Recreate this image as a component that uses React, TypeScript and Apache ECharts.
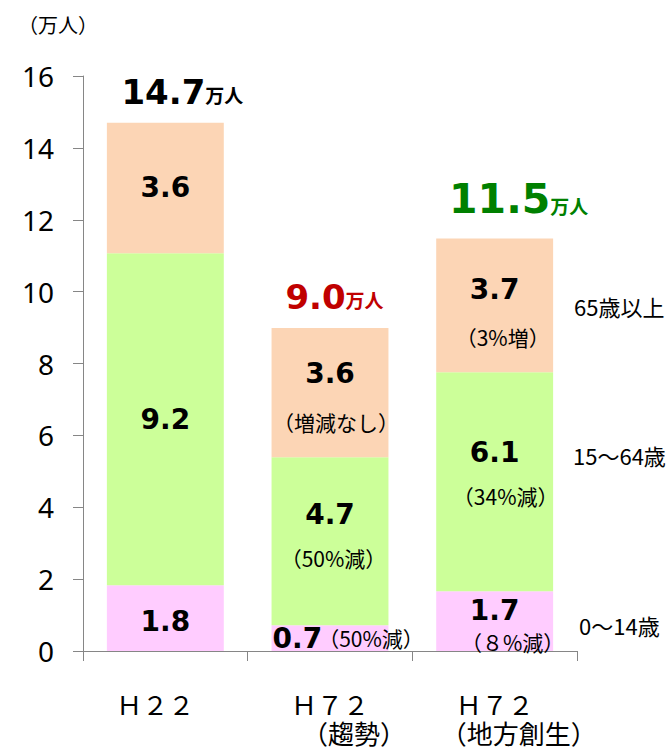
import React, { useEffect, useRef } from 'react';
import * as echarts from 'echarts';

// ---- data ----
const categories = ['Ｈ２２', 'Ｈ７２', 'Ｈ７２'];
const categoryNotes = ['', '（趨勢）', '（地方創生）'];
const ageGroups = ['0～14歳', '15～64歳', '65歳以上'];
const age0to14 = [1.83, 0.72, 1.66];
const age15to64 = [9.24, 4.67, 6.1];
const age65plus = [3.63, 3.6, 3.72];
const change0to14 = ['', '（50%減）', '（８%減）'];
const change15to64 = ['', '（50%減）', '（34%減）'];
const change65plus = ['', '（増減なし）', '（3%増）'];
const yMin = 0;
const yMax = 16;
const yStep = 2;
const unitText = '（万人）';
const totalUnitText = '万人';

// ---- styles / layout ----
const NUM_FONT = "'DejaVu Sans', Verdana, sans-serif";
const JP_FONT = "'Noto Sans CJK JP', sans-serif";
const AXIS_COLOR = '#868686';
const segColors = ['#FFCCFF', '#CCFF99', '#FCD5B5'];
const totalColors = ['#000000', '#C00000', '#008000'];
const segLabelLayout: any[][] = [
  [{ dy: 3 }, { inline: true }, { dy: 5, gap: 32, shift: 18 }],
  [{ dy: 0 }, { dy: -5, gap: 44, shift: 3.5 }, { dy: -7.5, gap: 43, shift: 11 }],
  [{ dy: 0 }, { dy: 5, gap: 49, shift: 6 }, { dy: 7.75, gap: 47.5, shift: 8 }],
];
const totalLabelLayout = [
  { dx: 17, dy: 0, size: 34 },
  { dx: 4.5, dy: 0, size: 34 },
  { dx: 24, dy: -5, size: 41 },
];
const sideLabelPos = [
  { x: 579, y: 625 },
  { x: 573, y: 455 },
  { x: 574, y: 306 },
];

const vStyle = {
  fontSize: 28,
  fontWeight: 'bold' as const,
  fontFamily: NUM_FONT,
  color: '#000',
};
const sStyle = {
  fontSize: 21,
  fontFamily: JP_FONT,
  color: '#000',
};

function segData(values: number[], notes: string[], si: number) {
  return values.map((v, i) => {
    const lay = segLabelLayout[si][i];
    const txt = v.toFixed(1);
    if (lay.inline) {
      return {
        value: v,
        label: {
          show: true,
          position: 'insideLeft',
          distance: 1,
          color: '#000',
          textBorderWidth: 0,
          formatter: `{v|${txt}}{s|${notes[i]}}`,
          rich: {
            v: { ...vStyle, lineHeight: 30, align: 'left' },
            s: { ...sStyle, lineHeight: 30, align: 'left', padding: [0, 0, 0, -4] },
          },
        },
      };
    }
    if (!notes[i]) {
      return {
        value: v,
        label: {
          show: true,
          position: 'inside',
          offset: [0, lay.dy],
          color: '#000',
          textBorderWidth: 0,
          formatter: `{v|${txt}}`,
          rich: { v: { ...vStyle, lineHeight: 34, align: 'center' } },
        },
      };
    }
    return {
      value: v,
      label: {
        show: true,
        position: 'inside',
        offset: [0, lay.dy],
        color: '#000',
        textBorderWidth: 0,
        formatter: `{v|${txt}}\n{s|${notes[i]}}`,
        rich: {
          v: { ...vStyle, lineHeight: lay.gap, align: 'center' },
          s: {
            ...sStyle,
            lineHeight: lay.gap,
            align: 'center',
            padding: [0, 0, 0, lay.shift * 2],
          },
        },
      },
    };
  });
}

export default function App() {
  const ref = useRef<HTMLDivElement>(null);

  useEffect(() => {
    if (!ref.current) return;
    const chart = echarts.init(ref.current, null, { renderer: 'svg' });

    const segValues = [age0to14, age15to64, age65plus];
    const segNotes = [change0to14, change15to64, change65plus];
    const totals = categories.map((_, i) => age0to14[i] + age15to64[i] + age65plus[i]);

    const barSeries = segValues.map((vals, si) => ({
      name: ageGroups[si],
      type: 'bar',
      stack: 'total',
      barWidth: '71%',
      silent: true,
      itemStyle: { color: segColors[si] },
      data: segData(vals, segNotes[si], si),
    }));

    const totalSeries = {
      name: 'total',
      type: 'scatter',
      symbolSize: 1,
      silent: true,
      z: 10,
      itemStyle: { color: 'rgba(0,0,0,0)', opacity: 1 },
      data: totals.map((t, i) => {
        const lay = totalLabelLayout[i];
        return {
          value: t,
          label: {
            show: true,
            opacity: 1,
            position: 'top',
            distance: 13,
            offset: [lay.dx, lay.dy],
            formatter: `{n|${t.toFixed(1)}}{u|${totalUnitText}}`,
            rich: {
              n: {
                fontSize: lay.size,
                fontWeight: 'bold',
                fontFamily: NUM_FONT,
                color: totalColors[i],
                lineHeight: lay.size,
                verticalAlign: 'bottom',
              },
              u: {
                fontSize: 19,
                fontWeight: 'bold',
                fontFamily: JP_FONT,
                color: totalColors[i],
                verticalAlign: 'bottom',
                padding: [0, 0, 5, 0],
              },
            },
          },
        };
      }),
    };

    const option: any = {
      animation: false,
      backgroundColor: '#ffffff',
      grid: { left: 83, right: 94, top: 76, bottom: 100, containLabel: false },
      xAxis: {
        type: 'category',
        data: categories.map((c, i) => c + categoryNotes[i]),
        axisLine: { show: true, lineStyle: { color: AXIS_COLOR, width: 1 } },
        axisTick: { show: true, length: 10, alignWithLabel: false, interval: 0, lineStyle: { color: AXIS_COLOR } },
        axisLabel: {
          interval: 0,
          margin: 38,
          formatter: (_v: string, idx: number) =>
            idx === 0
              ? `{h0|${categories[idx]}}`
              : `{h|${categories[idx]}}\n{p|${categoryNotes[idx]}}`,
          rich: {
            h0: { fontSize: 26, fontFamily: JP_FONT, color: '#000', lineHeight: 29, align: 'center', padding: [0, 20, 0, 0] },
            h: { fontSize: 26, fontFamily: JP_FONT, color: '#000', lineHeight: 29, align: 'center' },
            p: { fontSize: 26, fontFamily: JP_FONT, color: '#000', lineHeight: 29, align: 'center', padding: [0, 0, 0, 48] },
          },
        },
        splitLine: { show: false },
      },
      yAxis: {
        type: 'value',
        min: yMin,
        max: yMax,
        interval: yStep,
        axisLine: { show: true, lineStyle: { color: AXIS_COLOR, width: 1 } },
        axisTick: { show: true, inside: false, length: 10, lineStyle: { color: AXIS_COLOR } },
        axisLabel: {
          margin: 29,
          fontSize: 28,
          fontFamily: "'Noto Sans', sans-serif",
          color: '#000',
          padding: [0, 0, 5, 0],
        },
        splitLine: { show: false },
      },
      graphic: [
        {
          type: 'text',
          x: 58,
          y: 24,
          style: {
            text: unitText,
            fontSize: 20,
            fontFamily: JP_FONT,
            fill: '#000',
            align: 'center',
            verticalAlign: 'middle',
          },
        },
        ...ageGroups.map((g, i) => ({
          type: 'text',
          x: sideLabelPos[i].x,
          y: sideLabelPos[i].y,
          style: {
            text: g,
            fontSize: 22,
            fontFamily: JP_FONT,
            fill: '#000',
            align: 'left',
            verticalAlign: 'middle',
          },
        })),
      ],
      series: [...barSeries, totalSeries],
    };

    chart.setOption(option);
    return () => {
      chart.dispose();
    };
  }, []);

  return (
    <div
      ref={ref}
      style={{ position: 'fixed', left: 0, top: 0, width: 671, height: 751 }}
    />
  );
}
